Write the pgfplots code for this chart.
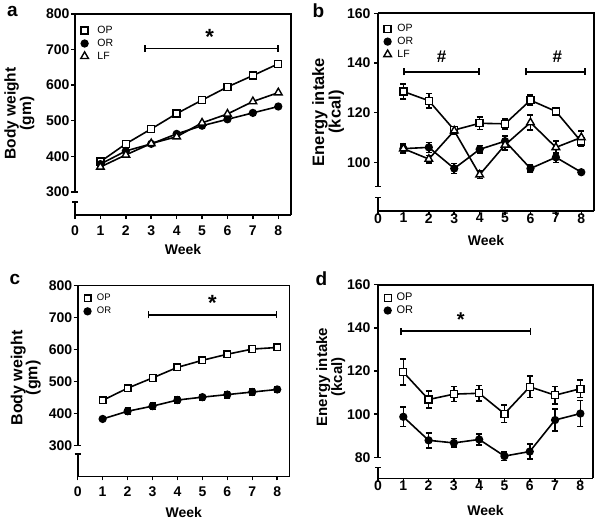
\documentclass[border=0pt]{standalone}
\usepackage{pgfplots}
\pgfplotsset{compat=1.18}
\usepackage{pgfplotstable}
\usepackage{fontspec}
\setmainfont{Liberation Sans}
\usetikzlibrary{arrows.meta}
\newcommand\fs[1]{\fontsize{#1}{#1}\selectfont}

\pgfplotstableread{
w op or lf
1 385 378 370
2 435 415 404
3 477 435 436
4 520 463 455
5 558 486 494
6 595 504 519
7 627 522 554
8 660 540 579
}\tabA

\pgfplotstableread{
w op eop or eor lf elf
1 128.5 3.0 105.5 2.0 105.5 1.5
2 124.8 3.0 106.0 2.0 101.3 1.5
3 113.0 1.5 97.5 2.0 112.7 1.5
4 115.7 2.5 105.2 1.5 95.0 1.5
5 115.5 2.0 108.5 2.0 107.0 2.0
6 125.0 2.0 97.5 1.5 116.0 3.0
7 120.5 1.5 102.0 2.0 106.0 2.5
8 108.3 2.0 96.0 0.5 110.0 2.5
}\tabB

\pgfplotstableread{
w op eop or eor
1 441 5 383 4
2 479 6 407 10
3 511 7 423 10
4 544 5 442 9
5 566 7 451 9
6 585 7 459 10
7 601 8 467 10
8 606 9 475 10
}\tabC

\pgfplotstableread{
w op eop or eor
1 119.5 6.0 98.8 4.5
2 106.8 4.0 87.9 3.5
3 109.3 3.5 86.7 2.0
4 109.7 3.5 88.3 2.5
5 100.2 4.0 80.6 2.0
6 112.7 5.0 82.7 3.5
7 108.8 4.0 97.3 5.0
8 111.8 4.0 100.3 6.0
}\tabD

\tikzset{sig/.style={line width=1.7pt, {Bar[width=7pt]}-{Bar[width=7pt]}}}
\def\legsep{10pt}

\pgfplotsset{
 panel/.style={
  scale only axis, clip=false,
  xmin=0, xmax=8.5, xtick={0,1,...,8},
  axis x line*=bottom, axis y line*=left,
  y axis line style={draw=none},
  x axis line style={line width=1.6pt},
  tick align=outside, major tick length=4pt,
  tick style={black, line width=1.5pt},
  /pgf/number format/assume math mode=true,
  tick label style={font=\fs{14}\bfseries},
  xlabel={Week},
  label style={font=\fs{14}\bfseries},
  ylabel style={align=center, anchor=center},
  legend style={draw=none, fill=none, anchor=north west, inner sep=0pt, row sep=2pt, font=\fs{10.5},
     cells={anchor=west}, nodes={inner xsep=0pt, inner ysep=1pt}},
  legend image code/.code={\draw[#1] plot coordinates {(0pt,0pt)}; \path (\legsep,0pt);},
  every axis plot/.append style={black, line width=1.6pt},
 },
 opst/.style={mark=square*, mark size=3.5pt, mark options={fill=white, solid, line width=1.4pt}},
 orst/.style={mark=*, mark size=3.3pt, mark options={solid}},
 lfst/.style={mark=triangle*, mark size=4.4pt, mark options={fill=white, solid, line width=1.4pt}},
 eb/.style={error bars/.cd, y dir=both, y explicit, error bar style={line width=1.5pt}, error mark options={rotate=90, mark size=3pt, line width=1.5pt}},
}

\begin{document}
\begin{tikzpicture}
\path[use as bounding box] (0,0) rectangle (602pt,-525pt);

% ---------- panel a ----------
\def\legsep{12pt}
\begin{axis}[panel,
  at={(75pt,-215pt)}, anchor=south west, width=216pt, height=201pt,
  ymin=235, ymax=800, ytick={300,400,...,800},
  ylabel={Body weight\\(gm)}, ylabel style={at={(axis description cs:-0.257,0.505)}, font=\fontsize{15.5}{14.4}\selectfont\bfseries},
  xlabel style={at={(axis description cs:0.5,-0.174)}, anchor=center},
  xticklabel style={yshift=-3pt}, yticklabel style={xshift=2pt},
  legend style={at={(axis description cs:0.026,0.945)}},
]
\addplot[opst] table[x=w,y=op] {\tabA};
\addplot[orst] table[x=w,y=or] {\tabA};
\addplot[lfst] table[x=w,y=lf] {\tabA};
\legend{OP,OR,LF}
\draw[line width=1.6pt] (rel axis cs:0,1) -- (rel axis cs:1,1) -- (rel axis cs:1,0);
\draw[line width=1.6pt] (rel axis cs:0,1) -- (axis cs:0,300);
\draw[line width=1.6pt] (axis cs:0,272) -- (rel axis cs:0,0);
\draw[line width=1.5pt] ([xshift=-3pt]axis cs:0,300) -- ([xshift=3pt]axis cs:0,300);
\draw[line width=1.5pt] ([xshift=-3pt]axis cs:0,272) -- ([xshift=3pt]axis cs:0,272);
\draw[sig] (axis cs:2.73,703) -- (axis cs:8.02,703);
\node[anchor=base, inner sep=0pt, font=\fs{22}\bfseries] at (axis cs:5.3,713) {*};
\end{axis}

% ---------- panel b ----------
\def\legsep{9pt}
\begin{axis}[panel,
  at={(378pt,-210.7pt)}, anchor=south west, width=216pt, height=197.4pt,
  ymin=80.5, ymax=160, ytick={100,120,140,160},
  ylabel={Energy intake\\(kcal)}, ylabel style={at={(axis description cs:-0.231,0.50)}, font=\fontsize{16.5}{14}\selectfont\bfseries},
  xlabel style={at={(axis description cs:0.5,-0.152)}, anchor=center},
  xticklabel style={yshift=5pt},
  legend style={at={(axis description cs:0.026,0.95)}},
]
\addplot[opst, eb] table[x=w,y=op,y error=eop] {\tabB};
\addplot[orst, eb] table[x=w,y=or,y error=eor] {\tabB};
\addplot[lfst, eb] table[x=w,y=lf,y error=elf] {\tabB};
\legend{OP,OR,LF}
\draw[line width=1.6pt] (rel axis cs:0,1) -- (rel axis cs:1,1) -- (rel axis cs:1,0);
\draw[line width=1.6pt] (rel axis cs:0,1) -- (axis cs:0,90.2);
\draw[line width=1.6pt] (axis cs:0,85.8) -- (rel axis cs:0,0);
\draw[line width=1.5pt] ([xshift=-3pt]axis cs:0,90.2) -- ([xshift=3pt]axis cs:0,90.2);
\draw[line width=1.5pt] ([xshift=-3pt]axis cs:0,85.8) -- ([xshift=3pt]axis cs:0,85.8);
\draw[sig] (axis cs:0.98,136.4) -- (axis cs:4.02,136.4);
\draw[sig] (axis cs:5.8,136.4) -- (axis cs:8.17,136.4);
\node[anchor=base, inner sep=0pt, font=\fs{17}\bfseries] at (axis cs:2.5,140.1) {\#};
\node[anchor=base, inner sep=0pt, font=\fs{17}\bfseries] at (axis cs:7.06,140.1) {\#};
\end{axis}

% ---------- panel c ----------
\def\legsep{8.5pt}
\begin{axis}[panel,
  at={(77.7pt,-476.3pt)}, anchor=south west, width=212pt, height=191pt,
  ymin=204, ymax=800, ytick={300,400,...,800},
  ylabel={Body weight\\(gm)}, ylabel style={at={(axis description cs:-0.245,0.515)}, font=\fontsize{16}{15}\selectfont\bfseries},
  xlabel style={at={(axis description cs:0.5,-0.191)}, anchor=center},
  xticklabel style={yshift=-3pt}, yticklabel style={xshift=2pt},
  legend style={at={(axis description cs:0.03,0.96)}, font=\fs{9.5}, row sep=3pt},
  opst/.append style={mark size=3.3pt},
]
\addplot[opst, eb] table[x=w,y=op,y error=eop] {\tabC};
\addplot[orst, eb] table[x=w,y=or,y error=eor] {\tabC};
\legend{OP,OR}
\draw[line width=1.6pt] (rel axis cs:0,1) -- (rel axis cs:1,1) -- (rel axis cs:1,0);
\draw[line width=1.6pt] (rel axis cs:0,1) -- (axis cs:0,300);
\draw[line width=1.6pt] (axis cs:0,273) -- (rel axis cs:0,0);
\draw[line width=1.5pt] ([xshift=-3pt]axis cs:0,300) -- ([xshift=3pt]axis cs:0,300);
\draw[line width=1.5pt] ([xshift=-3pt]axis cs:0,273) -- ([xshift=3pt]axis cs:0,273);
\draw[sig] (axis cs:2.8,708) -- (axis cs:8.0,708);
\node[anchor=base, inner sep=0pt, font=\fs{22}\bfseries] at (axis cs:5.4,722) {*};
\end{axis}

% ---------- panel d ----------
\def\legsep{8pt}
\begin{axis}[panel,
  at={(378pt,-478.3pt)}, anchor=south west, width=215pt, height=193.6pt,
  ymin=70.3, ymax=160, ytick={80,100,120,140,160},
  ylabel={Energy intake\\(kcal)}, ylabel style={at={(axis description cs:-0.22,0.523)}, font=\fontsize{15}{15}\selectfont\bfseries},
  xlabel style={at={(axis description cs:0.5,-0.167)}, anchor=center},
  xticklabel style={yshift=5pt},
  legend style={at={(axis description cs:0.028,0.962)}, font=\fs{11}, row sep=1.5pt},
]
\addplot[opst, eb] table[x=w,y=op,y error=eop] {\tabD};
\addplot[orst, eb] table[x=w,y=or,y error=eor] {\tabD};
\legend{OP,OR}
\draw[line width=1.6pt] (rel axis cs:0,1) -- (rel axis cs:1,1) -- (rel axis cs:1,0);
\draw[line width=1.6pt] (rel axis cs:0,1) -- (axis cs:0,80);
\draw[line width=1.6pt] (axis cs:0,75.4) -- (rel axis cs:0,0);
\draw[line width=1.5pt] ([xshift=-3pt]axis cs:0,80) -- ([xshift=3pt]axis cs:0,80);
\draw[line width=1.5pt] ([xshift=-3pt]axis cs:0,75.4) -- ([xshift=3pt]axis cs:0,75.4);
\draw[sig] (axis cs:0.87,138.4) -- (axis cs:6.06,138.4);
\node[anchor=base, inner sep=0pt, font=\fs{20}\bfseries] at (axis cs:3.27,140.5) {*};
\end{axis}

% panel letters
\node[anchor=base west, inner sep=0pt, font=\fs{19}\bfseries] at (7pt,-16pt) {a};
\node[anchor=base west, inner sep=0pt, font=\fs{19}\bfseries] at (312.5pt,-17pt) {b};
\node[anchor=base west, inner sep=0pt, font=\fs{19}\bfseries] at (9.5pt,-284pt) {c};
\node[anchor=base west, inner sep=0pt, font=\fs{19}\bfseries] at (315.5pt,-285pt) {d};
\end{tikzpicture}
\end{document}
